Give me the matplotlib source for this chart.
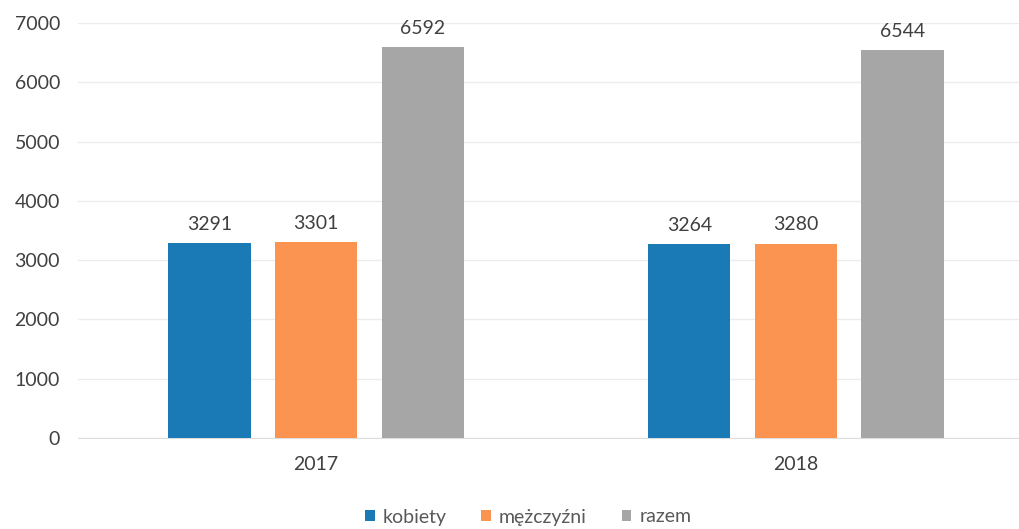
import numpy as np
import matplotlib
matplotlib.use("Agg")
import matplotlib.pyplot as plt

# Dane z wykresu
lata = ["2017", "2018"]
serie = ["kobiety", "mężczyźni", "razem"]
kobiety = [3291, 3264]
mezczyzni = [3301, 3280]
razem = [6592, 6544]
y_ticks = [0, 1000, 2000, 3000, 4000, 5000, 6000, 7000]

kolory = ["#1a7ab5", "#fa9450", "#a5a6a5"]
tekst = "#404040"

plt.rcParams['font.family'] = ['Lato', 'DejaVu Sans']

fig = plt.figure(figsize=(10.2, 5.29), dpi=100)
ax = fig.add_axes([78 / 1020, 91 / 529, 956 / 1020, 415 / 529])

x = np.arange(len(lata))
szer = 0.171
krok = 0.222
for i, (nazwa, wartosci) in enumerate(zip(serie, [kobiety, mezczyzni, razem])):
    pos = x + (i - 1) * krok
    bars = ax.bar(pos, wartosci, width=szer, color=kolory[i], label=nazwa, zorder=3)
    for b, v in zip(bars, wartosci):
        ax.text(b.get_x() + b.get_width() / 2, v + 170, str(v), ha="center", va="bottom",
                fontsize=14, color=tekst)

ax.set_xlim(-0.496, 1.496)
ax.set_ylim(0, 7000)
ax.set_yticks(y_ticks)
ax.set_yticklabels([str(t) for t in y_ticks], fontsize=14, color=tekst)
ax.set_xticks(x)
ax.set_xticklabels(lata, fontsize=14, color=tekst)
ax.tick_params(axis="both", length=0)
ax.tick_params(axis="y", pad=13)
ax.tick_params(axis="x", pad=13)
ax.grid(axis="y", color="#ececec", linewidth=1, zorder=0)
for s in ["top", "right", "left"]:
    ax.spines[s].set_visible(False)
ax.spines["bottom"].set_color("#dedede")

leg = fig.legend(loc="center", bbox_to_anchor=(528 / 1020, 1 - 517 / 529), ncol=3, frameon=False,
                 fontsize=14, handlelength=0.5, handleheight=0.5, handletextpad=0.4,
                 columnspacing=1.8)
for t in leg.get_texts():
    t.set_color("#595959")

fig.savefig("out.png", dpi=100)
